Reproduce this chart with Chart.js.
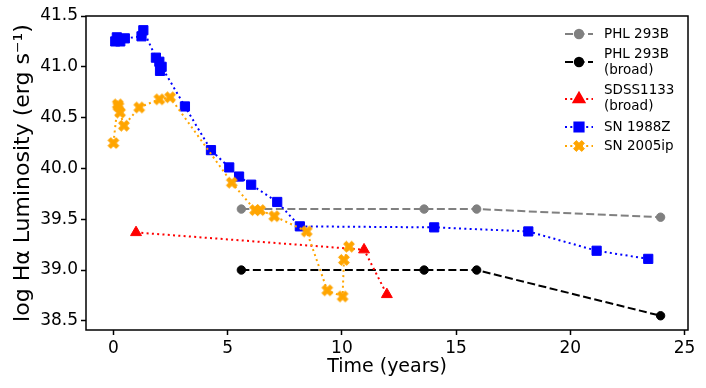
<!DOCTYPE html>
<html>
<head>
<meta charset="utf-8">
<script src="https://cdn.jsdelivr.net/npm/chart.js@4/dist/chart.umd.min.js"></script>
<style>
html,body{margin:0;padding:0;background:#fff;}
#wrap{width:706px;height:388px;}
</style>
</head>
<body>
<div id="wrap"><canvas id="c" width="706" height="388"></canvas></div>
<script>
const xTicks = [0, 5, 10, 15, 20, 25];
const yTicks = [38.5, 39.0, 39.5, 40.0, 40.5, 41.0, 41.5];

const phlT = [5.6, 13.6, 15.9, 23.95];
const phlL = [39.6, 39.6, 39.6, 39.52];
const phlBroadT = [5.6, 13.6, 15.9, 23.95];
const phlBroadL = [39.0, 39.0, 39.0, 38.55];
const sdssT = [0.99, 10.97, 11.97];
const sdssL = [39.37, 39.2, 38.76];
const sn88T = [0.08, 0.15, 0.3, 0.5, 1.23, 1.31, 1.86, 2.01, 2.04, 2.11, 3.13, 4.27, 5.07, 5.5, 6.03, 7.17, 8.16, 14.04, 18.16, 21.15, 23.41];
const sn88L = [41.25, 41.29, 41.25, 41.28, 41.3, 41.36, 41.09, 41.05, 40.96, 41.0, 40.61, 40.18, 40.01, 39.92, 39.84, 39.67, 39.43, 39.42, 39.38, 39.19, 39.11];
const sn05T = [0.0, 0.19, 0.22, 0.29, 0.46, 1.13, 2.01, 2.48, 5.18, 6.2, 6.42, 7.04, 8.46, 9.36, 10.03, 10.09, 10.31];
const sn05L = [40.25, 40.63, 40.61, 40.55, 40.42, 40.6, 40.68, 40.7, 39.86, 39.59, 39.59, 39.53, 39.38, 38.8, 38.74, 39.1, 39.23];

const labels = ['PHL 293B', 'PHL 293B\n(broad)', 'SDSS1133\n(broad)', 'SN 1988Z', 'SN 2005ip'];

function pts(t, v) { return t.map((x, i) => ({x: x, y: v[i]})); }

// filled "X" marker
function makeX(color, s) {
  const n = Math.ceil(s) + 4;
  const cv = document.createElement('canvas');
  cv.width = n; cv.height = n;
  const g = cv.getContext('2d');
  const P = [[-1,-3],[1,-3],[1,-1],[3,-1],[3,1],[1,1],[1,3],[-1,3],[-1,1],[-3,1],[-3,-1],[-1,-1]];
  const a = Math.PI / 4, ca = Math.cos(a), sa = Math.sin(a);
  g.beginPath();
  P.forEach((p, i) => {
    const px = p[0] / 6 * s, py = p[1] / 6 * s;
    const rx = px * ca - py * sa + n / 2, ry = px * sa + py * ca + n / 2;
    if (i === 0) g.moveTo(rx, ry); else g.lineTo(rx, ry);
  });
  g.closePath();
  g.fillStyle = color; g.fill();
  g.strokeStyle = color; g.lineWidth = 1; g.stroke();
  return cv;
}
const xMarker = makeX('#ffa500', 11.5);

const DASH = [8, 3.5];
const DOT = [2, 3.3];

const datasets = [
  {label: labels[0], data: pts(phlT, phlL), borderColor: '#808080', backgroundColor: '#808080', borderDash: DASH, pointStyle: 'circle', pointRadius: 4.2, order: 5},
  {label: labels[1], data: pts(phlBroadT, phlBroadL), borderColor: '#000000', backgroundColor: '#000000', borderDash: DASH, pointStyle: 'circle', pointRadius: 4.2, order: 4},
  {label: labels[2], data: pts(sdssT, sdssL), borderColor: '#ff0000', backgroundColor: '#ff0000', borderDash: DOT, pointStyle: 'triangle', pointRadius: 6.3, order: 3},
  {label: labels[3], data: pts(sn88T, sn88L), borderColor: '#0000ff', backgroundColor: '#0000ff', borderDash: DOT, pointStyle: 'rect', pointRadius: 6.5, order: 2},
  {label: labels[4], data: pts(sn05T, sn05L), borderColor: '#ffa500', backgroundColor: '#ffa500', borderDash: DOT, pointStyle: xMarker, pointRadius: 6, order: 1}
];
datasets.forEach(d => {
  d.borderWidth = 2; d.tension = 0; d.pointBorderWidth = 1; d.borderCapStyle = 'butt';
  d.pointBackgroundColor = d.backgroundColor; d.pointBorderColor = d.borderColor;
  d.fill = false;
});

const FONT = 'DejaVu Sans';

const frame = {
  id: 'frame',
  afterDatasetsDraw(chart) {
    const {ctx, chartArea: a} = chart;
    ctx.save();
    ctx.strokeStyle = '#000'; ctx.lineWidth = 1.5;
    ctx.strokeRect(a.left, a.top, a.right - a.left, a.bottom - a.top);
    ctx.restore();
  }
};

const legendRows = [
  {lines: [34], handle: 34},
  {lines: [54, 70], handle: 62},
  {lines: [90, 106], handle: 99},
  {lines: [127], handle: 127},
  {lines: [146], handle: 146}
];

const legendPlugin = {
  id: 'mylegend',
  afterDraw(chart) {
    const ctx = chart.ctx;
    ctx.save();
    chart.data.datasets.forEach((d, i) => {
      const r = legendRows[i];
      ctx.strokeStyle = d.borderColor; ctx.lineWidth = 2; ctx.setLineDash(d.borderDash); ctx.lineCap = 'butt';
      ctx.beginPath(); ctx.moveTo(565, r.handle); ctx.lineTo(593, r.handle); ctx.stroke();
      ctx.setLineDash([]);
      ctx.fillStyle = d.backgroundColor; ctx.strokeStyle = d.borderColor;
      Chart.helpers.drawPoint(ctx, {pointStyle: d.pointStyle, radius: d.pointRadius, rotation: 0, borderWidth: 1}, 579, r.handle);
      ctx.fillStyle = '#000'; ctx.font = '13.5px "' + FONT + '"'; ctx.textBaseline = 'middle'; ctx.textAlign = 'left';
      d.label.split('\n').forEach((t, k) => ctx.fillText(t, 604, r.lines[k]));
    });
    ctx.restore();
  }
};

new Chart(document.getElementById('c'), {
  type: 'line',
  data: {datasets: datasets},
  options: {
    responsive: false,
    animation: false,
    layout: {padding: {top: 16, right: 18, left: 0, bottom: 0}},
    plugins: {legend: {display: false}, tooltip: {enabled: false}},
    scales: {
      x: {
        type: 'linear', min: -1.2, max: 25.15,
        afterBuildTicks: s => { s.ticks = xTicks.map(v => ({value: v})); },
        afterFit: s => { s.height = 58; },
        ticks: {color: '#000', font: {family: FONT, size: 17}, padding: 3, maxRotation: 0, callback: v => String(v)},
        grid: {display: true, drawOnChartArea: false, drawTicks: true, tickLength: 5, tickColor: '#000', tickWidth: 1.5},
        border: {display: false},
        title: {display: true, text: 'Time (years)', color: '#000', font: {family: FONT, size: 19}, padding: {top: 0, bottom: 10}}
      },
      y: {
        type: 'linear', min: 38.41, max: 41.5,
        afterBuildTicks: s => { s.ticks = yTicks.map(v => ({value: v})); },
        afterFit: s => { s.width = 86; },
        ticks: {color: '#000', font: {family: FONT, size: 17}, padding: 3, callback: v => Number(v).toFixed(1)},
        grid: {display: true, drawOnChartArea: false, drawTicks: true, tickLength: 5, tickColor: '#000', tickWidth: 1.5},
        border: {display: false},
        title: {display: true, text: 'log Hα Luminosity (erg s⁻¹)', color: '#000', font: {family: FONT, size: 22}, padding: {top: 10, bottom: 0}}
      }
    }
  },
  plugins: [frame, legendPlugin]
});
</script>
</body>
</html>
